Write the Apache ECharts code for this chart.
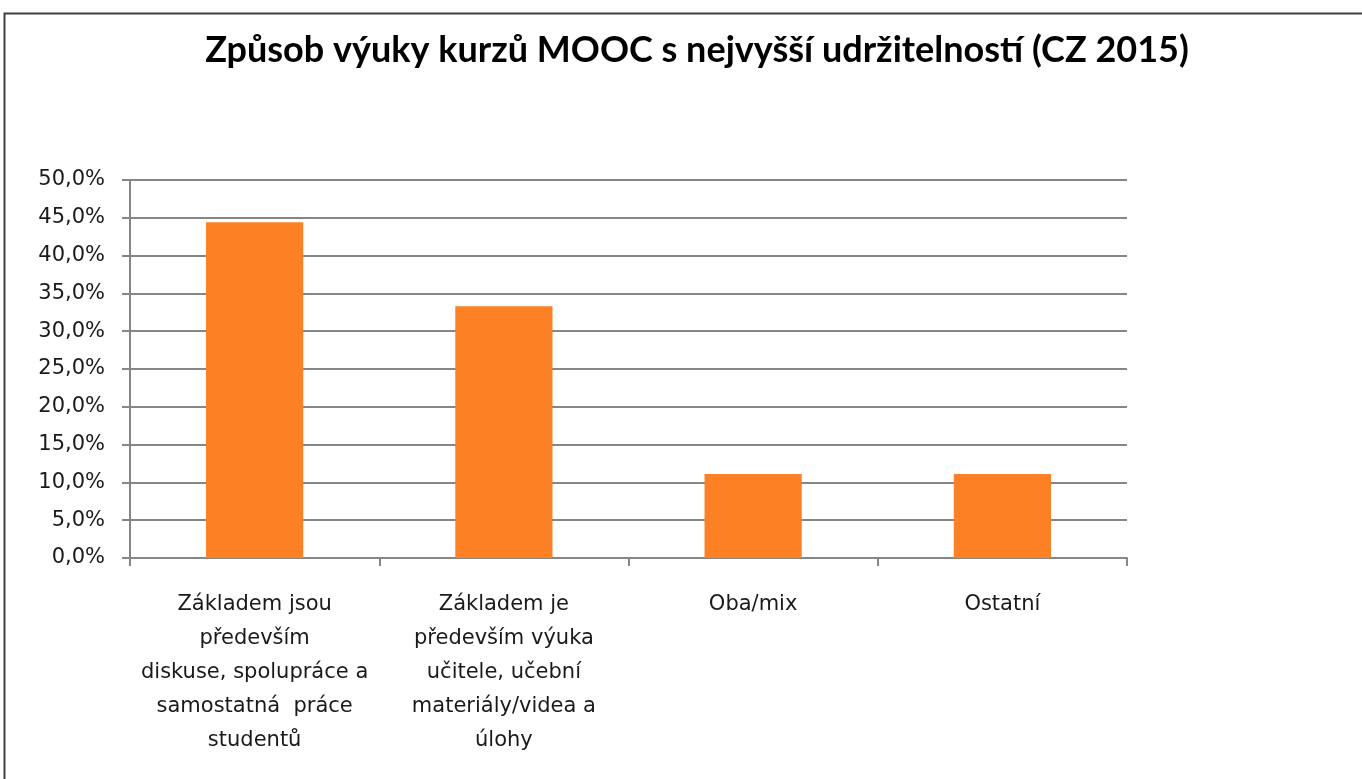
<!DOCTYPE html>
<html>
<head>
<meta charset="utf-8">
<script src="https://cdn.jsdelivr.net/npm/echarts@6/dist/echarts.min.js"></script>
<style>
  html, body { margin: 0; padding: 0; background: #fff; }
  #chart { width: 1362px; height: 779px; }
</style>
</head>
<body>
<div id="chart"></div>
<script>
// data
const titleText = 'Způsob výuky kurzů MOOC s nejvyšší udržitelností (CZ 2015)'
const categories = [
  'Základem jsou\npředevším\ndiskuse, spolupráce a\nsamostatná  práce\nstudentů',
  'Základem je\npředevším výuka\nučitele, učební\nmateriály/videa a\núlohy',
  'Oba/mix',
  'Ostatní',
]
const values = [44.4, 33.3, 11.1, 11.1]

const myChart = echarts.init(document.getElementById('chart'))

const titleFont = 'Lato, "Open Sans", sans-serif'
const labelFont = '"DejaVu Sans", sans-serif'

const option = {
  backgroundColor: '#fff',
  animation: false,
  title: {
    text: titleText,
    left: 692,
    top: 27,
    textAlign: 'center',
    textStyle: {
      fontFamily: titleFont,
      fontSize: 36,
      fontWeight: 'bold',
      color: '#000',
    },
  },
  graphic: [
    {
      type: 'rect',
      shape: { x: 4.5, y: 13.5, width: 1400, height: 800 },
      style: { fill: 'none', stroke: '#404040', lineWidth: 2 },
      silent: true,
    },
  ],
  grid: {
    left: 130,
    right: 235,
    top: 180,
    bottom: 221,
  },
  xAxis: {
    type: 'category',
    data: categories,
    axisLine: { lineStyle: { color: '#868686', width: 2 } },
    axisTick: {
      show: true,
      alignWithLabel: false,
      length: 8,
      lineStyle: { color: '#868686', width: 2 },
    },
    axisLabel: {
      interval: 0,
      margin: 30,
      fontFamily: labelFont,
      fontSize: 21,
      lineHeight: 34,
      color: '#1a1a1a',
      align: 'center',
    },
  },
  yAxis: {
    type: 'value',
    min: 0,
    max: 50,
    interval: 5,
    axisLine: { show: true, lineStyle: { color: '#868686', width: 2 } },
    axisTick: { show: true, length: 8, lineStyle: { color: '#868686', width: 2 } },
    splitLine: { show: true, lineStyle: { color: '#868686', width: 2 } },
    axisLabel: {
      margin: 25,
      fontFamily: labelFont,
      fontSize: 21,
      color: '#1a1a1a',
      formatter: (v) => v.toFixed(1).replace('.', ',') + '%',
    },
  },
  series: [
    {
      type: 'bar',
      data: values,
      barWidth: '39%',
      itemStyle: { color: '#fd8025' },
    },
  ],
}

myChart.setOption(option)
</script>
</body>
</html>
